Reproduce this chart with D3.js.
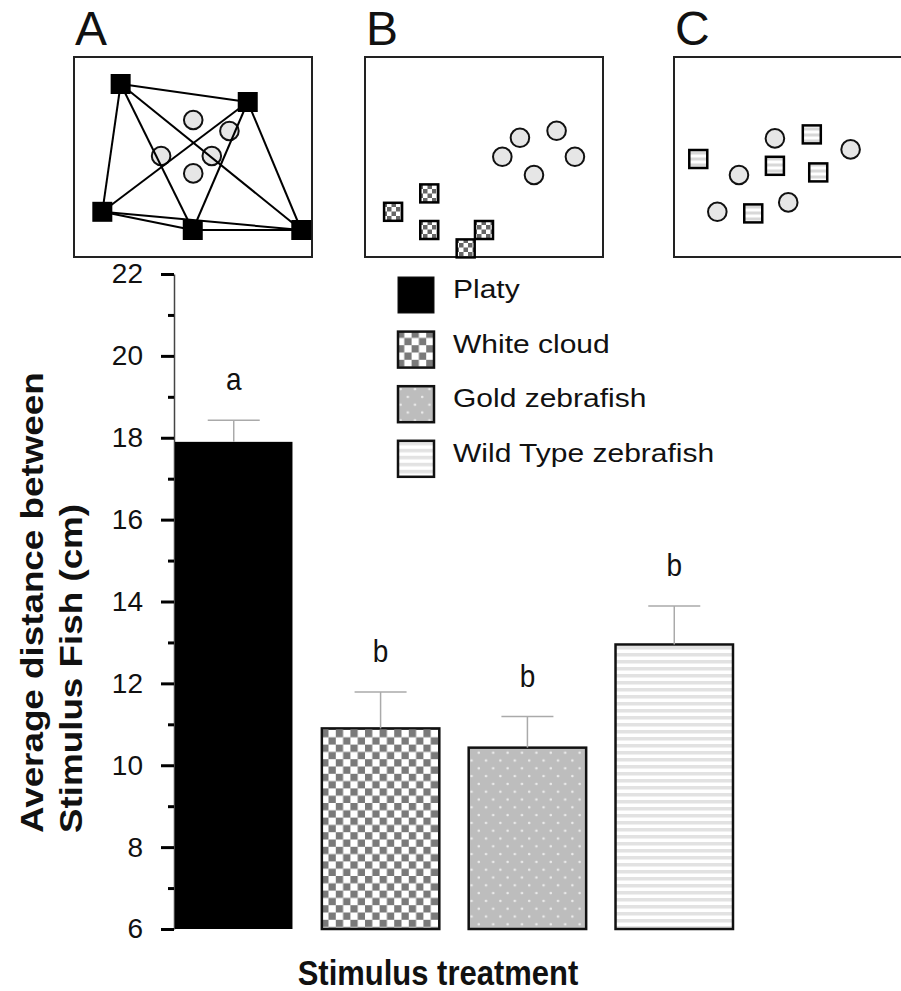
<!DOCTYPE html>
<html>
<head>
<meta charset="utf-8">
<script src="https://cdn.jsdelivr.net/npm/d3@7"></script>
<style>
    body { margin: 0; background: #fff; }
    svg text { font-family: "Liberation Sans", Arial, Helvetica, sans-serif; fill: #111; }
</style>
</head>
<body>
<div id="chart"></div>
<script>
// bar data (cm)
var categories = ["Platy", "White cloud", "Gold zebrafish", "Wild Type zebrafish"];
var means = [17.9, 10.9, 10.43, 12.95];
var errors = [0.53, 0.89, 0.76, 0.94];
var letters = ["a", "b", "b", "b"];
var fills = ["solid", "checker", "dots", "stripes"];
var majorTicks = [6, 8, 10, 12, 14, 16, 18, 20, 22];
var minorTicks = [7, 9, 11, 13, 15, 17, 19, 21];

// schematic panels, positions in % of each panel box
var panelLabels = ["A", "B", "C"];
var panelSquares = [
    [[19.6, 13.5], [73.0, 22.5], [11.9, 77.4], [49.9, 86.5], [95.5, 86.5]],
    [[11.8, 77.4], [27.0, 68.2], [27.0, 86.5], [50.0, 86.5], [42.3, 95.7]],
    [[57.9, 38.7], [10.2, 51.0], [42.4, 54.4], [60.6, 57.7], [33.3, 78.2]]
];
var panelCircles = [
    [[50.1, 31.5], [65.3, 37.0], [36.6, 49.5], [57.9, 49.5], [50.1, 58.2]],
    [[65.1, 40.4], [80.5, 36.9], [57.7, 49.9], [88.2, 49.9], [71.0, 59.0]],
    [[42.4, 40.7], [74.2, 46.2], [27.3, 59.0], [48.0, 72.7], [18.2, 77.4]]
];
var squareFills = ["solid", "checker-small", "stripes-small"];

var width = 901, height = 991;

var svg = d3.select("#chart").append("svg")
    .attr("width", width)
    .attr("height", height);

//Patterns used for the bars, legend and panel squares
var defs = svg.append("defs");

var checker = defs.append("pattern").attr("id", "checker")
    .attr("patternUnits", "userSpaceOnUse").attr("width", 14.6).attr("height", 14.6);
checker.append("rect").attr("width", 14.6).attr("height", 14.6).attr("fill", "#fff");
checker.append("rect").attr("width", 7.3).attr("height", 7.3).attr("fill", "#7a7a7a");
checker.append("rect").attr("x", 7.3).attr("y", 7.3).attr("width", 7.3).attr("height", 7.3).attr("fill", "#7a7a7a");

var checkerSmall = defs.append("pattern").attr("id", "checker-small")
    .attr("patternUnits", "userSpaceOnUse").attr("width", 9).attr("height", 9);
checkerSmall.append("rect").attr("width", 9).attr("height", 9).attr("fill", "#fff");
checkerSmall.append("rect").attr("width", 4.5).attr("height", 4.5).attr("fill", "#666");
checkerSmall.append("rect").attr("x", 4.5).attr("y", 4.5).attr("width", 4.5).attr("height", 4.5).attr("fill", "#666");

var dots = defs.append("pattern").attr("id", "dots")
    .attr("patternUnits", "userSpaceOnUse").attr("width", 14.4).attr("height", 15.6);
dots.append("rect").attr("width", 14.4).attr("height", 15.6).attr("fill", "#bdbdbd");
dots.append("circle").attr("cx", 3.6).attr("cy", 3.9).attr("r", 1.3).attr("fill", "#ececec");
dots.append("circle").attr("cx", 10.8).attr("cy", 11.7).attr("r", 1.3).attr("fill", "#ececec");

var stripes = defs.append("pattern").attr("id", "stripes")
    .attr("patternUnits", "userSpaceOnUse").attr("width", 10).attr("height", 7);
stripes.append("rect").attr("width", 10).attr("height", 7).attr("fill", "#fff");
stripes.append("rect").attr("y", 2).attr("width", 10).attr("height", 3.5).attr("fill", "#e2e2e2");

var stripesSmall = defs.append("pattern").attr("id", "stripes-small")
    .attr("patternUnits", "userSpaceOnUse").attr("width", 10).attr("height", 6);
stripesSmall.append("rect").attr("width", 10).attr("height", 6).attr("fill", "#fff");
stripesSmall.append("rect").attr("y", 1.5).attr("width", 10).attr("height", 3).attr("fill", "#d8d8d8");

function fillFor(f) {
    return f === "solid" ? "#000" : "url(#" + f + ")";
}

//Panels A, B, C
var panelX = [74, 365, 674], panelW = 238, panelTop = 57, panelH = 200;

panelLabels.forEach(function (label, p) {
    var px = d3.scaleLinear().domain([0, 100]).range([panelX[p], panelX[p] + panelW]);
    var py = d3.scaleLinear().domain([0, 100]).range([panelTop, panelTop + panelH]);
    var g = svg.append("g").attr("class", "panel");

    g.append("text")
        .attr("x", panelX[p] + 1)
        .attr("y", 45)
        .style("font-size", "48px")
        .text(label);

    g.append("rect")
        .attr("x", panelX[p]).attr("y", panelTop)
        .attr("width", panelW).attr("height", panelH)
        .attr("fill", "none").attr("stroke", "#222").attr("stroke-width", 2);

    g.selectAll("circle.fish")
        .data(panelCircles[p])
        .enter().append("circle")
        .attr("class", "fish")
        .attr("cx", function (d) { return px(d[0]); })
        .attr("cy", function (d) { return py(d[1]); })
        .attr("r", 9.3)
        .attr("fill", "#e6e6e6").attr("stroke", "#111").attr("stroke-width", 2);

    //in panel A all the stimulus fish are joined to each other
    if (p === 0) {
        var sq = panelSquares[p], pairs = [];
        for (var i = 0; i < sq.length; i++) {
            for (var j = i + 1; j < sq.length; j++) pairs.push([sq[i], sq[j]]);
        }
        g.selectAll("line.link")
            .data(pairs)
            .enter().append("line")
            .attr("x1", function (d) { return px(d[0][0]); })
            .attr("y1", function (d) { return py(d[0][1]); })
            .attr("x2", function (d) { return px(d[1][0]); })
            .attr("y2", function (d) { return py(d[1][1]); })
            .attr("stroke", "#000").attr("stroke-width", 2);
    }

    var s = p === 0 ? 20 : 18;
    g.selectAll("rect.fish")
        .data(panelSquares[p])
        .enter().append("rect")
        .attr("class", "fish")
        .attr("x", function (d) { return px(d[0]) - s / 2; })
        .attr("y", function (d) { return py(d[1]) - s / 2; })
        .attr("width", s).attr("height", s)
        .attr("fill", fillFor(squareFills[p]))
        .attr("stroke", "#000").attr("stroke-width", p === 0 ? 0 : 2.5);
});

//Bar chart scales
var y = d3.scaleLinear().domain([6, 22]).range([929, 274]);
var x = d3.scaleBand().domain(categories).range([175, 733]).paddingInner(0.2).paddingOuter(0);
var axisX = 174;

//Y axis: labelled major ticks and short minor ticks
var yAxis = svg.append("g")
    .attr("class", "y axis")
    .attr("transform", "translate(" + axisX + ",0)")
    .call(d3.axisLeft(y).tickValues(majorTicks).tickSize(13).tickSizeOuter(0).tickPadding(18));
yAxis.select(".domain").attr("stroke", "#444").attr("stroke-width", 1.5);
yAxis.selectAll(".tick line").attr("stroke", "#000").attr("stroke-width", 3);
yAxis.selectAll(".tick text")
    .style("font-size", "28px")
    .style("font-family", "'Liberation Sans', Arial, sans-serif")
    .attr("fill", "#111");

var yMinor = svg.append("g")
    .attr("transform", "translate(" + axisX + ",0)")
    .call(d3.axisLeft(y).tickValues(minorTicks).tickSize(6).tickFormat(""));
yMinor.select(".domain").remove();
yMinor.selectAll(".tick line").attr("stroke", "#000").attr("stroke-width", 3);

//Bars
var bars = svg.selectAll(".bar")
    .data(categories)
    .enter().append("g")
    .attr("class", "bar");

bars.append("rect")
    .attr("x", function (d) { return x(d); })
    .attr("y", function (d, i) { return y(means[i]); })
    .attr("width", x.bandwidth())
    .attr("height", function (d, i) { return y(6) - y(means[i]); })
    .attr("fill", function (d, i) { return fillFor(fills[i]); })
    .attr("stroke", function (d, i) { return i === 0 ? "none" : "#111"; })
    .attr("stroke-width", 2.5);

//Error bars (upper half only)
var cap = 26;
bars.append("line")
    .attr("x1", function (d) { return x(d) + x.bandwidth() / 2; })
    .attr("x2", function (d) { return x(d) + x.bandwidth() / 2; })
    .attr("y1", function (d, i) { return y(means[i]); })
    .attr("y2", function (d, i) { return y(means[i] + errors[i]); })
    .attr("stroke", "#aaa").attr("stroke-width", 1.5);
bars.append("line")
    .attr("x1", function (d) { return x(d) + x.bandwidth() / 2 - cap; })
    .attr("x2", function (d) { return x(d) + x.bandwidth() / 2 + cap; })
    .attr("y1", function (d, i) { return y(means[i] + errors[i]); })
    .attr("y2", function (d, i) { return y(means[i] + errors[i]); })
    .attr("stroke", "#aaa").attr("stroke-width", 1.5);

//Significance letters
bars.append("text")
    .attr("transform", function (d, i) {
        return "translate(" + (x(d) + x.bandwidth() / 2) + "," + (y(means[i] + errors[i]) - 30) + ") scale(1,1.15)";
    })
    .attr("text-anchor", "middle")
    .style("font-size", "28px")
    .text(function (d, i) { return letters[i]; });

//Legend
var legend = svg.append("g").attr("class", "legend");
var legendRow = legend.selectAll("g")
    .data(categories)
    .enter().append("g")
    .attr("transform", function (d, i) { return "translate(397," + (276 + i * 54.6) + ")"; });
legendRow.append("rect")
    .attr("x", 1).attr("y", 1)
    .attr("width", 36).attr("height", 36)
    .attr("fill", function (d, i) { return fillFor(fills[i]); })
    .attr("stroke", "#111")
    .attr("stroke-width", function (d, i) { return i === 0 ? 1 : 2.5; });
legendRow.append("text")
    .attr("transform", "translate(56,22) scale(1.2,1)")
    .style("font-size", "25px")
    .text(function (d) { return d; });

//Axis titles
svg.append("text")
    .attr("transform", "translate(438,985) scale(1,1.15)")
    .attr("text-anchor", "middle")
    .style("font-size", "31px")
    .style("font-weight", "bold")
    .text("Stimulus treatment");

var yTitle = svg.append("text")
    .attr("transform", "translate(0,833) scale(1,1.15) rotate(-90)")
    .attr("text-anchor", "start")
    .style("font-size", "32px")
    .style("font-weight", "bold");
yTitle.append("tspan").attr("x", 0).attr("y", 43).text("Average distance between");
yTitle.append("tspan").attr("x", 0).attr("y", 82).text("Stimulus Fish (cm)");
</script>
</body>
</html>
